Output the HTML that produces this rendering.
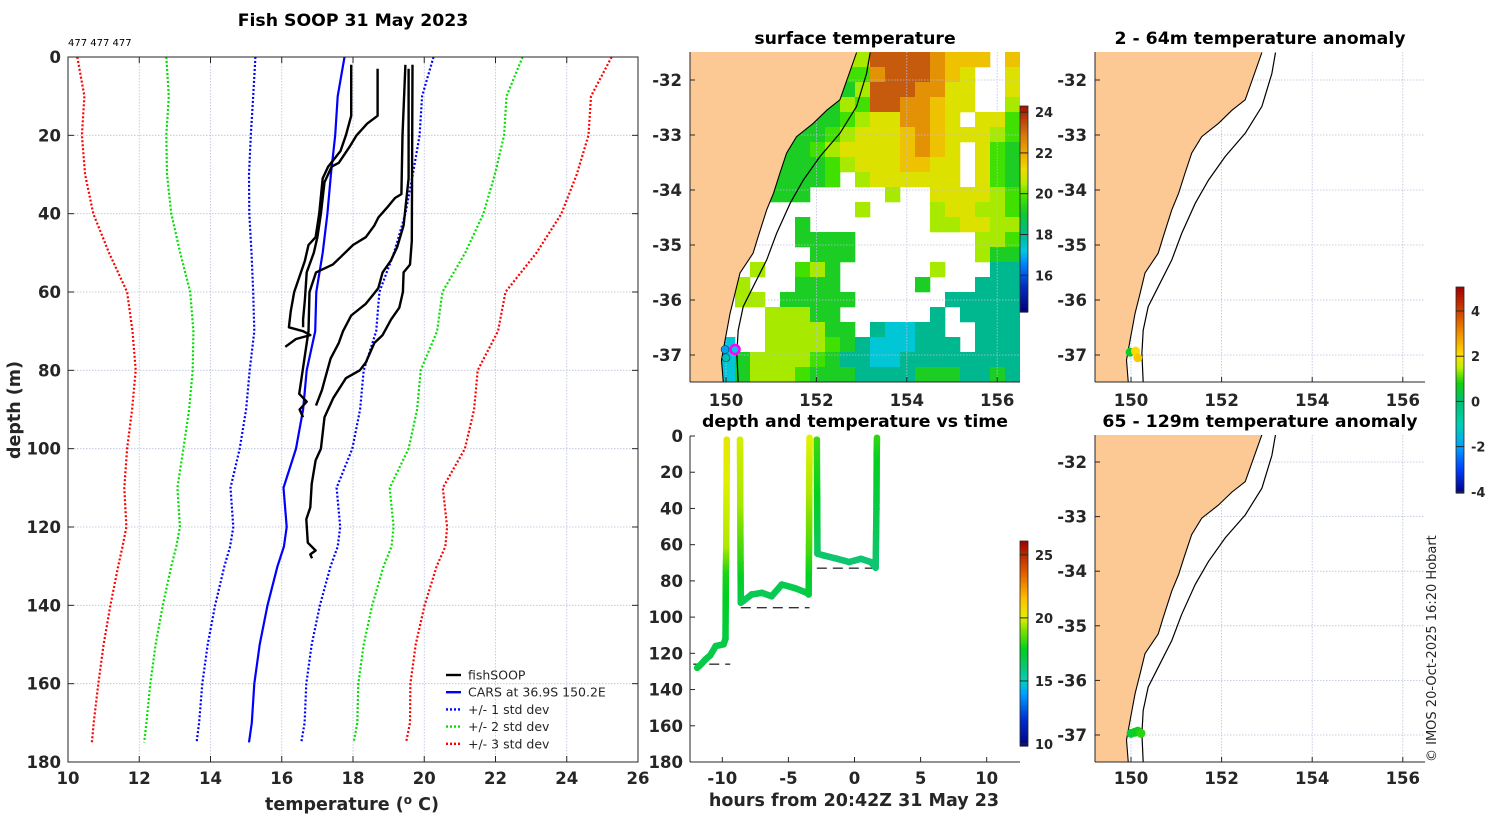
<!DOCTYPE html>
<html><head><meta charset="utf-8">
<style>
html,body{margin:0;padding:0;background:#fff;}
svg{display:block;font-family:"DejaVu Sans","Liberation Sans",sans-serif;}
.tk{font-size:16.5px;font-weight:bold;fill:#262626;}
.lab{font-size:17.5px;font-weight:bold;fill:#262626;}
.cb{font-size:13px;font-weight:bold;fill:#262626;}
.ttl{font-size:17.3px;font-weight:bold;fill:#000;}
</style></head>
<body>
<svg id="fig" width="1500" height="820" viewBox="0 0 1500 820" xmlns="http://www.w3.org/2000/svg">
<rect x="0" y="0" width="1500" height="820" fill="#fff"/>
</svg>
<script>
// ---------------- CARS climatology ----------------
const carsDepth = [0,10,20,30,40,50,60,70,80,90,100,110,120,125,130,140,150,160,170,175];
const carsMean  = [17.76,17.57,17.5,17.38,17.28,17.15,16.97,16.94,16.7,16.6,16.4,16.05,16.14,16.06,15.88,15.6,15.38,15.23,15.16,15.08];
const carsStd   = [2.5,2.37,2.37,2.3,2.19,2.0,1.77,1.71,1.6,1.6,1.58,1.49,1.5,1.51,1.49,1.47,1.46,1.46,1.48,1.47];
// ---------------- fishSOOP profiles ----------------
const profADepth = [2,15,20,24,28,31,40,46,48,52,56,60,65,69,70,71,72,74];
const profATemp  = [17.95,17.95,17.8,17.65,17.3,17.15,17.05,16.95,16.75,16.65,16.5,16.35,16.25,16.2,16.6,16.8,16.4,16.1];
const profBDepth = [3,15,17,20,23,27,28,32,40,46,50,55,62,67,69];
const profBTemp  = [18.69,18.69,18.4,18.1,17.9,17.6,17.4,17.2,17.1,17.0,16.9,16.7,16.65,16.6,16.6];
const profCDepth = [2,20,35,36,38,41,43,46,48,51,53,55,60,70,86,88,90,92];
const profCTemp  = [19.47,19.39,19.36,19.18,19.0,18.71,18.6,18.36,18.0,17.66,17.43,16.96,16.78,16.75,16.49,16.7,16.5,16.6];
const profDDepth = [3,31,43,48.5,52,55,59,61,63,66,70,73,77,83,85,89];
const profDTemp  = [19.56,19.56,19.42,19.24,19.06,18.83,18.71,18.54,18.36,17.95,17.72,17.6,17.37,17.19,17.13,16.96];
const profEDepth = [2,47,53,55,60,64,67,71,73,78,80,82,87,92,100,103,109,115,118,124,126,127,128];
const profETemp  = [19.67,19.65,19.6,19.42,19.4,19.3,19.07,18.83,18.6,18.36,18.19,17.8,17.45,17.2,17.1,16.95,16.84,16.8,16.69,16.73,16.95,16.8,16.85];
const xTicks = [10,12,14,16,18,20,22,24,26];
const yTicks = [0,20,40,60,80,100,120,140,160,180];
// ---------------- depth/time ----------------
const seg1Hours = [-11.9,-11.6,-11.28,-10.9,-10.5,-9.9,-9.76,-9.73,-9.7,-9.66];
const seg1Depth = [128,126,123.4,121,116,115,112,75,60,2];
const seg1Temp  = [16.9,16.9,16.8,16.8,16.8,16.8,16.9,17.8,19.5,20.3];
const seg2Hours = [-8.66,-8.64,-8.62,-8.6,-8.4,-7.78,-7.0,-6.27,-5.5,-4.5,-3.6,-3.47,-3.44,-3.42,-3.4];
const seg2Depth = [2,40,70,92,91,87.5,86.6,88.5,82,84,86.6,87.5,60,30,1];
const seg2Temp  = [19.9,19.4,18.0,16.8,16.6,16.6,16.6,16.6,16.7,16.7,16.8,16.9,18.4,19.5,20.0];
const seg3Hours = [-2.85,-2.83,-2.8,-2.3,-1.3,-0.4,0.48,1.24,1.6,1.66,1.68,1.7];
const seg3Depth = [2,30,65,66,67.8,69.6,67.8,69.6,72.7,40,10,1];
const seg3Temp  = [18.2,17.6,16.4,16.2,16.1,16.1,16.1,16.1,16.1,16.8,17.6,18.0];
const dashStart = [-12.2,-8.6,-2.85];
const dashEnd   = [-9.4,-3.4,1.5];
const dashDepth = [126,94.8,73];
const hourTicks = [-10,-5,0,5,10];
// ---------------- maps ----------------
const coastLon = [152.89,152.52,152.23,151.93,151.56,151.34,151.19,151.05,150.90,150.71,150.60,150.31,150.20,150.09,149.98,149.90,149.94];
const coastLat = [-31.50,-32.36,-32.55,-32.79,-33.03,-33.33,-33.70,-34.06,-34.36,-34.85,-35.15,-35.51,-35.88,-36.24,-36.73,-37.09,-37.50];
const shelfLon = [153.19,153.11,152.89,152.52,152.08,151.71,151.42,151.12,150.90,150.60,150.38,150.27,150.24,150.27];
const shelfLat = [-31.50,-31.88,-32.48,-32.97,-33.39,-33.82,-34.24,-34.79,-35.27,-35.76,-36.12,-36.55,-36.97,-37.50];
const lonTicks = [150,152,154,156];
const latTicks = [-32,-33,-34,-35,-36,-37];
// SST grid, codes: R O Y y l g G T C = temperature classes, W = no data
const sstRows = [
"llllllllllllRRRROYYYWY",
"ggggggggggggORRROYyWWy",
"GGGGGGGGGGGlRRROOyyWWy",
"GGGGGGGGGGlgRROOYyyWWl",
"GGGGGGGGGGglyyOOYyWyyg",
"GGGGGGGGGglyyyYOYyyylg",
"GGGGGGGGglyyyyYOYyWygG",
"GGGGGGGGGglyyyYYyyWygG",
"GGGGGGGGGgWlyyyyyyWygG",
"GGGGGGGGWWWWWlWWyyyylg",
"WWWWWWWWWWWlWWWWlyyllg",
"WWWWWWWGWWWWWWWWllyyll",
"WWWWWWWGGGGWWWWWWWWllg",
"WWWWWWWWGGGWWWWWWWWlGG",
"WWWWlWWglGWWWWWWlWWWTT",
"WWWlWWWGGGWWWWWGWWWTTT",
"WWWllWGGGGGWWWWWWTTTTT",
"WWWWWlllGGWWWWWWTWTTTT",
"WWWWWllllGGWTCCTTWWTTT",
"WWCWWllllgGTCCCTTTWTTT",
"WWCGllllgGTTCCTTTTTTTT",
"WWCGlllgGGGTTTTGGGTTGT"];
const sstCodes = ['R','O','Y','y','l','g','G','T','C'];
const sstCodeTemp = [23.3,22.4,21.6,21.0,20.4,19.8,19.2,18.0,17.3];
const sstCbTicks = [16,18,20,22,24];
const dtCbTicks = [10,15,20,25];
const anCbTicks = [-4,-2,0,2,4];
const shipLon = [149.98,150.0,150.2];
const shipLat = [-36.9,-37.05,-36.9];
const shipTemp = [16.8,17.6,17.2];
const anomShallowLon = [149.98,150.1,150.15];
const anomShallowLat = [-36.95,-36.93,-37.05];
const anomShallowVal = [0.6,2.1,2.3];
const anomDeepLon = [150.0,150.08,150.15,150.22];
const anomDeepLat = [-36.97,-36.95,-36.93,-36.97];
const anomDeepVal = [0.5,0.6,0.7,0.9];

const NS='http://www.w3.org/2000/svg';
const svg=document.getElementById('fig');
function el(tag,attrs,parent){const e=document.createElementNS(NS,tag);for(const k in attrs)e.setAttribute(k,attrs[k]);(parent||svg).appendChild(e);return e;}
function txt(s,x,y,cls,anchor,parent){const t=el('text',{x:x,y:y,'class':cls,'text-anchor':anchor||'middle'},parent);t.textContent=s;return t;}
function hex(c){return [parseInt(c.slice(1,3),16),parseInt(c.slice(3,5),16),parseInt(c.slice(5,7),16)];}
function cmap(stops,v){if(v<=stops[0][0])return stops[0][1];for(let i=1;i<stops.length;i++){if(v<=stops[i][0]){const a=stops[i-1],b=stops[i];const f=(v-a[0])/(b[0]-a[0]);const ca=hex(a[1]),cb=hex(b[1]);return 'rgb('+ca.map((x,j)=>Math.round(x+(cb[j]-x)*f)).join(',')+')';}}return stops[stops.length-1][1];}
const sstStops=[[14.2,'#00007a'],[15.5,'#0030c0'],[16.5,'#0080ff'],[17.2,'#00c8e0'],[18,'#00b890'],[19,'#10c830'],[19.8,'#40e000'],[20.5,'#b8ec00'],[21.2,'#ecdc00'],[22,'#f0a800'],[23,'#d07010'],[24.5,'#a00000']];
const dtStops=[[9.8,'#00007f'],[12,'#0030d0'],[14,'#00a0ff'],[15,'#00d0c0'],[16,'#10c478'],[17.5,'#00d020'],[19,'#80e000'],[20,'#e0f000'],[21.5,'#ffc000'],[23.5,'#e06000'],[26.1,'#a00000']];
const anStops=[[-4.05,'#00007f'],[-3,'#0040ff'],[-2,'#00a0ff'],[-1,'#00d0b0'],[0,'#00c070'],[0.8,'#10d010'],[1.5,'#c0f000'],[2,'#ffe000'],[3,'#f09000'],[4,'#d04000'],[5.06,'#a00000']];

// ================= MAIN PROFILE PLOT =================
const PX0=68,PX1=638,PY0=57,PY1=762;
const tx=T=>PX0+(T-10)*(PX1-PX0)/16;
const ty=d=>PY0+d*(PY1-PY0)/180;
const gMain=el('g',{});


xTicks.forEach(v=>{
  if(v>10&&v<26){const l=el('line',{x1:tx(v),x2:tx(v),y1:PY0,y2:PY1,stroke:'#b8c0dc','stroke-width':0.8,'stroke-dasharray':'1.5,1.5'},gMain);}
  el('line',{x1:tx(v),x2:tx(v),y1:PY1,y2:PY1-6,stroke:'#262626'},gMain);
  el('line',{x1:tx(v),x2:tx(v),y1:PY0,y2:PY0+6,stroke:'#262626'},gMain);
  const t=txt(String(v),tx(v),784,'tk','middle',gMain);
});
yTicks.forEach(v=>{
  if(v>0&&v<180){const l=el('line',{x1:PX0,x2:PX1,y1:ty(v),y2:ty(v),stroke:'#b8c0dc','stroke-width':0.8,'stroke-dasharray':'1.5,1.5'},gMain);}
  el('line',{x1:PX0,x2:PX0+6,y1:ty(v),y2:ty(v),stroke:'#262626'},gMain);
  el('line',{x1:PX1,x2:PX1-6,y1:ty(v),y2:ty(v),stroke:'#262626'},gMain);
  const t=txt(String(v),61,ty(v)+6,'tk','end',gMain);
});
function pathFrom(xs,ys){return xs.map((x,i)=>(i?'L':'M')+x.toFixed(1)+' '+ys[i].toFixed(1)).join(' ');}
const bandColors=['#0000ff','#00e000','#ff0000'];
[1,2,3].forEach(k=>{
  [-1,1].forEach(s=>{
    const p=el('path',{d:pathFrom(carsMean.map((m,i)=>tx(m+s*k*carsStd[i])),carsDepth.map(ty)),fill:'none',stroke:bandColors[k-1],'stroke-width':2.2,'stroke-dasharray':'2,2'},gMain);
    
    
  });
});
const cars=el('path',{d:pathFrom(carsMean.map(tx),carsDepth.map(ty)),fill:'none',stroke:'#0000ff','stroke-width':2.2},gMain);


[[profATemp,profADepth],[profBTemp,profBDepth],[profCTemp,profCDepth],[profDTemp,profDDepth],[profETemp,profEDepth]].forEach((p,i)=>{
  const e=el('path',{d:pathFrom(p[0].map(tx),p[1].map(ty)),fill:'none',stroke:'#000','stroke-width':2.4,'stroke-linejoin':'round'},gMain);
  
  
});
const box=el('rect',{x:PX0,y:PY0,width:PX1-PX0,height:PY1-PY0,fill:'none',stroke:'#262626','stroke-width':1},gMain);


// legend
const leg=el('g',{},gMain);


const legItems=[['fishSOOP','#000',''],['CARS at 36.9S 150.2E','#0000ff',''],['+/- 1 std dev','#0000ff','2,2'],['+/- 2 std dev','#00e000','2,2'],['+/- 3 std dev','#ff0000','2,2']];
legItems.forEach((it,i)=>{
  const y=675+i*17.2;
  const ln=el('line',{x1:446,x2:461,y1:y,y2:y,stroke:it[1],'stroke-width':2.4,'stroke-dasharray':it[2]||'none'},leg);
  
  
  const t=el('text',{x:468,y:y+4.5,'font-size':'12.5px',fill:'#262626'},leg);t.textContent=it[0];
  
  
});
let t;
t=txt('Fish SOOP 31 May 2023',353,26,'ttl');t.setAttribute('font-size','18.2px');
t=el('text',{x:68,y:46,'font-size':'10px',fill:'#000'});t.textContent='477 477 477';
t=el('text',{x:0,y:0,transform:'translate(20,410) rotate(-90)','text-anchor':'middle','class':'lab'});t.textContent='depth (m)';
t=el('text',{x:352,y:810,'text-anchor':'middle','class':'lab'});t.innerHTML='temperature (<tspan dy="-6" font-size="12px">o</tspan><tspan dy="6"> C)</tspan>';

// ================= MAPS =================
function makeMap(name,L,T,W,H,x150,yM32,sx,sy){
  const g=el('g',{});
  
  
  const cid='clip-'+name;
  const cp=el('clipPath',{id:cid},g);el('rect',{x:L,y:T,width:W,height:H},cp);
  const inner=el('g',{'clip-path':'url(#'+cid+')'},g);
  const lx=lon=>x150+(lon-150)*sx, ly=lat=>yM32+(-32-lat)*sy;
  return {g,inner,lx,ly,L,T,W,H};
}
function mapDecor(m,tickY){
  lonTicks.forEach(v=>{
    const l=el('line',{x1:m.lx(v),x2:m.lx(v),y1:m.T,y2:m.T+m.H,stroke:'#b8c0dc','stroke-width':0.8,'stroke-dasharray':'1.5,1.5'},m.inner);
    
    el('line',{x1:m.lx(v),x2:m.lx(v),y1:m.T+m.H,y2:m.T+m.H-5,stroke:'#262626'},m.g);
    const t=txt(String(v),m.lx(v),tickY,'tk','middle',m.g);
  });
  latTicks.forEach(v=>{
    const l=el('line',{x1:m.L,x2:m.L+m.W,y1:m.ly(v),y2:m.ly(v),stroke:'#b8c0dc','stroke-width':0.8,'stroke-dasharray':'1.5,1.5'},m.inner);
    
    el('line',{x1:m.L,x2:m.L+5,y1:m.ly(v),y2:m.ly(v),stroke:'#262626'},m.g);
    const t=txt(String(v),m.L-8,m.ly(v)+6,'tk','end',m.g);
  });
}
function mapLand(m){
  const xs=coastLon.map(m.lx), ys=coastLat.map(m.ly);
  let d=pathFrom(xs,ys)+' L'+(m.L-5)+' '+(m.T+m.H+5)+' L'+(m.L-5)+' '+(m.T-5)+' L'+xs[0]+' '+(m.T-5)+' Z';
  const land=el('path',{d:d,fill:'#fcc995',stroke:'none'},m.inner);
  
  const c=el('path',{d:pathFrom(xs,ys),fill:'none',stroke:'#000','stroke-width':1.1},m.inner);
  
  const s=el('path',{d:pathFrom(shelfLon.map(m.lx),shelfLat.map(m.ly)),fill:'none',stroke:'#000','stroke-width':1.2},m.inner);
  
  el('line',{x1:m.L,x2:m.L,y1:m.T,y2:m.T+m.H,stroke:'#262626'},m.g);
  el('line',{x1:m.L,x2:m.L+m.W,y1:m.T+m.H,y2:m.T+m.H,stroke:'#262626'},m.g);
}
function colorbar(name,x,yTop,yBot,vmin,vmax,stops,ticks){
  const g=el('g',{});
  
  
  const n=80,h=(yBot-yTop)/n;
  for(let i=0;i<n;i++){const v=vmax-(i+0.5)*(vmax-vmin)/n;el('rect',{x:x,y:yTop+i*h,width:8,height:h+0.6,fill:cmap(stops,v)},g);}
  el('rect',{x:x,y:yTop,width:8,height:yBot-yTop,fill:'none',stroke:'#262626','stroke-width':0.8},g);
  ticks.forEach(v=>{const y=yTop+(vmax-v)/(vmax-vmin)*(yBot-yTop);el('line',{x1:x,x2:x+8,y1:y,y2:y,stroke:'#262626'},g);
    const t=txt(String(v),x+15,y+5,'cb','start',g);});
}
// --- SST map
const m1=makeMap('sst-map',690,52,330,330,726,80,45.2,55);
sstRows.forEach((row,r)=>{
  for(let c=0;c<22;c++){
    const ch=row[c];const k=sstCodes.indexOf(ch);
    if(k<0)continue;
    el('rect',{x:690+c*15,y:52+r*15,width:15.3,height:15.3,fill:cmap(sstStops,sstCodeTemp[k])},m1.inner);
  }
});
mapDecor(m1,406);
mapLand(m1);
shipLon.forEach((lo,i)=>{const c=el('circle',{cx:m1.lx(lo),cy:m1.ly(shipLat[i]),r:4,fill:cmap(sstStops,shipTemp[i]),stroke:'#103040','stroke-width':0.6},m1.inner);});
const ring=el('circle',{cx:m1.lx(150.2),cy:m1.ly(-36.9),r:4.5,fill:'none',stroke:'#ff00ff','stroke-width':2.5},m1.inner);

t=txt('surface temperature',855,44,'ttl');
colorbar('sst-colorbar',1020,106,312,14.2,24.3,sstStops,sstCbTicks);

// --- anomaly maps
const m2=makeMap('anomaly-map-shallow',1095,52,330,330,1131,80,45.3,55);
mapDecor(m2,406);mapLand(m2);
anomShallowLon.forEach((lo,i)=>{const c=el('circle',{cx:m2.lx(lo),cy:m2.ly(anomShallowLat[i]),r:4.5,fill:cmap(anStops,anomShallowVal[i])},m2.inner);});
t=txt('2 - 64m temperature anomaly',1260,44,'ttl');
const m3=makeMap('anomaly-map-deep',1095,435,330,327,1131,462,45.3,54.6);
mapDecor(m3,784);mapLand(m3);
anomDeepLon.forEach((lo,i)=>{const c=el('circle',{cx:m3.lx(lo),cy:m3.ly(anomDeepLat[i]),r:4.5,fill:cmap(anStops,anomDeepVal[i])},m3.inner);});
t=txt('65 - 129m temperature anomaly',1260,427,'ttl');
colorbar('anomaly-colorbar',1456,287,493,-4.05,5.06,anStops,anCbTicks);

// ================= DEPTH vs TIME =================
const DX0=690,DX1=1020,DY0=436,DY1=762;
const hx=h=>854.5+h*13.22;
const dy=d=>DY0+d*(DY1-DY0)/180;
const gDT=el('g',{});


dashDepth.forEach((d,i)=>{const l=el('line',{x1:hx(dashStart[i]),x2:hx(dashEnd[i]),y1:dy(d),y2:dy(d),stroke:'#333','stroke-width':1.3,'stroke-dasharray':'10,6'},gDT);});
[[seg1Hours,seg1Depth,seg1Temp],[seg2Hours,seg2Depth,seg2Temp],[seg3Hours,seg3Depth,seg3Temp]].forEach((s,si)=>{
  const g=el('g',{},gDT);
  
  
  for(let i=0;i<s[0].length-1;i++){
    const x0=hx(s[0][i]),y0=dy(s[1][i]),x1=hx(s[0][i+1]),y1=dy(s[1][i+1]);
    const n=Math.max(2,Math.ceil(Math.hypot(x1-x0,y1-y0)/1.5));
    for(let j=0;j<=n;j++){const f=j/n;el('circle',{cx:x0+(x1-x0)*f,cy:y0+(y1-y0)*f,r:3.3,fill:cmap(dtStops,s[2][i]+(s[2][i+1]-s[2][i])*f)},g);}
  }
});
el('line',{x1:DX0,x2:DX0,y1:DY0,y2:DY1,stroke:'#262626'},gDT);
el('line',{x1:DX0,x2:DX1,y1:DY1,y2:DY1,stroke:'#262626'},gDT);
hourTicks.forEach(v=>{el('line',{x1:hx(v),x2:hx(v),y1:DY1,y2:DY1-5,stroke:'#262626'},gDT);
  const t=txt(String(v),hx(v),784,'tk','middle',gDT);});
yTicks.forEach(v=>{el('line',{x1:DX0,x2:DX0+5,y1:dy(v),y2:dy(v),stroke:'#262626'},gDT);
  const t=txt(String(v),683,dy(v)+6,'tk','end',gDT);});
t=txt('depth and temperature vs time',855,427,'ttl');
t=txt('hours from 20:42Z 31 May 23',854,806,'lab');
colorbar('depth-time-colorbar',1020,541,746,9.84,26.1,dtStops,dtCbTicks);

// copyright
t=el('text',{x:0,y:0,transform:'translate(1436,762) rotate(-90)','font-size':'13px',fill:'#262626'});t.textContent='© IMOS 20-Oct-2025 16:20 Hobart';

</script>
</body></html>
